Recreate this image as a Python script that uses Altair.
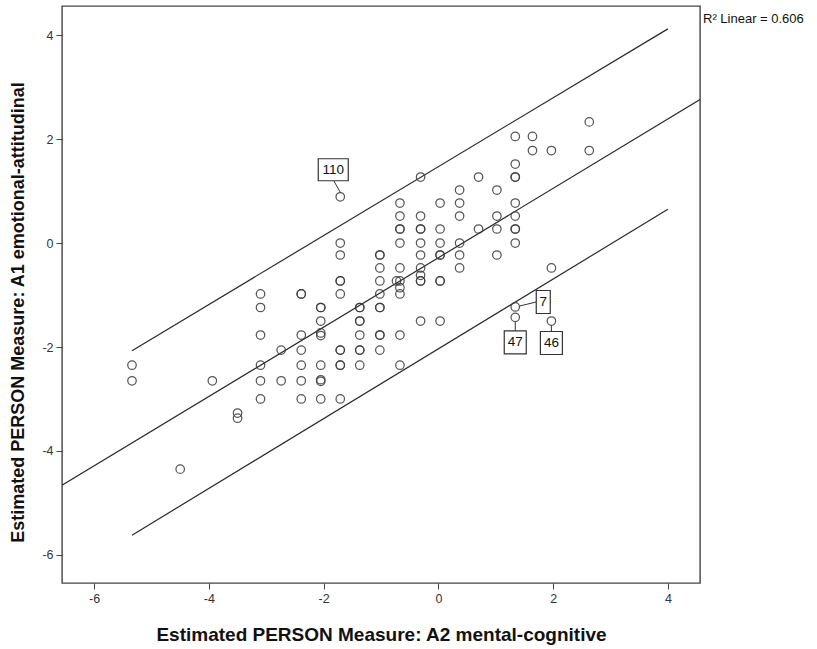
import altair as alt
import pandas as pd

# ---- data (x = A2 mental-cognitive, y = A1 emotional-attitudinal)
col_x = [-5.34, -4.50, -3.94, -3.50, -3.10, -2.74, -2.39, -2.05, -1.71, -1.37,
         -1.02, -0.67, -0.73, -0.31, 0.03, 0.37, 0.70, 1.02, 1.34, 1.64, 1.97, 2.63]
col_y = [
    [-2.35, -2.65],
    [-4.35],
    [-2.65],
    [-3.27, -3.37],
    [-0.98, -1.24, -1.77, -2.35, -2.65, -3.00],
    [-2.06, -2.65],
    [-0.98, -0.98, -1.77, -2.06, -2.35, -2.65, -3.00],
    [-1.24, -1.24, -1.50, -1.73, -1.78, -2.35, -2.63, -2.66, -3.00],
    [0.89, 0.00, -0.23, -0.73, -0.73, -0.98, -2.06, -2.06, -2.35, -2.35, -3.00],
    [-1.24, -1.24, -1.50, -1.50, -1.77, -2.06, -2.06, -2.35],
    [-0.23, -0.23, -0.48, -0.73, -0.98, -1.24, -1.24, -1.77, -1.77, -2.06],
    [0.77, 0.52, 0.27, 0.27, 0.00, -0.48, -0.73, -0.86, -0.98, -1.77, -2.35],
    [-0.73],
    [1.27, 0.52, 0.27, 0.27, 0.00, -0.23, -0.48, -0.62, -0.73, -0.73, -1.50],
    [0.77, 0.27, 0.00, -0.23, -0.23, -0.73, -0.73, -1.50],
    [1.02, 0.77, 0.52, 0.00, -0.23, -0.48],
    [1.27, 0.27],
    [1.02, 0.52, 0.27, -0.23],
    [2.05, 1.52, 1.27, 1.27, 0.77, 0.52, 0.27, 0.27, 0.00, -1.23, -1.43],
    [2.05, 1.78],
    [1.78, -0.48, -1.50],
    [2.33, 1.78],
]

# fit line and interval lines (end points)
fit_x = [-6.56, 4.56]
fit_y = [-4.66, 2.76]
upper_x = [-5.34, 4.00]
upper_y = [-2.07, 4.12]
lower_x = [-5.34, 4.00]
lower_y = [-5.62, 0.65]

# labelled cases
label_case = ["110", "7", "47", "46"]
label_x = [-1.71, 1.34, 1.34, 1.97]
label_y = [0.89, -1.23, -1.43, -1.50]

r2_text = "R\u00b2 Linear = 0.606"
x_title = "Estimated PERSON Measure: A2 mental-cognitive"
y_title = "Estimated PERSON Measure: A1 emotional-attitudinal"
tick_values = [-6, -4, -2, 0, 2, 4]

# ---- styling (pixel offsets of label boxes relative to their points)
label_dx = [-7, 28, 0, 0]
label_dy = [-27, -5, 25, 22]
box_w = [30, 14, 22, 22]
box_h = [22, 23, 23, 23]
rule_start = [(0, -4.5), (4.5, -1), (0, 4.5), (0, 4.5)]
rule_end = [(-6.5, -16), (21, -5), (0, 13.5), (0, 10.5)]

FONT = "Liberation Sans, Arial, sans-serif"
INK = "#333333"

rows = []
for xv, ys in zip(col_x, col_y):
    for yv in ys:
        rows.append({"x": xv, "y": yv})
pts = pd.DataFrame(rows)

lines = pd.DataFrame(
    [{"line": "fit", "x": a, "y": b} for a, b in zip(fit_x, fit_y)]
    + [{"line": "upper", "x": a, "y": b} for a, b in zip(upper_x, upper_y)]
    + [{"line": "lower", "x": a, "y": b} for a, b in zip(lower_x, lower_y)]
)

xscale = alt.Scale(domain=[-6.56, 4.56], nice=False, zero=False)
yscale = alt.Scale(domain=[-6.54, 4.56], nice=False, zero=False)

x_axis = alt.Axis(values=tick_values, labelExpr="toString(datum.value)", title=x_title,
                  titleX=319, titleY=51, titleAlign="center", titleBaseline="middle",
                  titleFontSize=19)
y_axis = alt.Axis(values=tick_values, labelExpr="toString(datum.value)", title=y_title,
                  titleX=-44, titleY=306, titleAngle=270, titleAlign="center",
                  titleBaseline="middle", titleFontSize=18)


def xy():
    return dict(
        x=alt.X("x:Q", scale=xscale, axis=x_axis, title=x_title),
        y=alt.Y("y:Q", scale=yscale, axis=y_axis, title=y_title),
    )


points = alt.Chart(pts).mark_point(
    shape="circle", size=72, filled=False, stroke="#3a3a3a", strokeWidth=1.25, opacity=0.85
).encode(**xy())

line_layer = alt.Chart(lines).mark_line(color="#2a2a2a", strokeWidth=1.2, clip=True).encode(
    detail="line:N", **xy()
)

layers = [line_layer, points]

for i in range(len(label_case)):
    one = pd.DataFrame({"x": [label_x[i]], "y": [label_y[i]], "case": [label_case[i]]})
    base = alt.Chart(one)
    rule = base.mark_rule(
        color=INK, strokeWidth=1,
        xOffset=rule_start[i][0], yOffset=rule_start[i][1],
        x2Offset=rule_end[i][0], y2Offset=rule_end[i][1],
    ).encode(x2="x:Q", y2="y:Q", **xy())
    m = max(box_w[i], box_h[i])
    hw = box_w[i] / m
    hh = box_h[i] / m
    path = f"M{-hw},{-hh}L{hw},{-hh}L{hw},{hh}L{-hw},{hh}Z"
    box = base.mark_point(
        shape=path, size=m * m, filled=True, fill="white", stroke=INK,
        strokeWidth=1.2, opacity=1, xOffset=label_dx[i], yOffset=label_dy[i],
    ).encode(**xy())
    txt = base.mark_text(
        dx=label_dx[i], dy=label_dy[i], fontSize=13.5, font=FONT, color="#111111",
        align="center", baseline="middle",
    ).encode(text="case:N", **xy())
    layers += [rule, box, txt]

r2 = alt.Chart(pd.DataFrame({"t": [r2_text]})).mark_text(
    align="left", baseline="middle", fontSize=13, font=FONT, color="#111111"
).encode(x=alt.value(641), y=alt.value(13), text="t:N")
layers.append(r2)

chart = alt.layer(*layers).properties(
    width=638, height=577,
    autosize=alt.AutoSizeParams(type="none"),
    padding={"left": 62, "top": 6, "right": 117, "bottom": 66},
).configure(
    background="white", font=FONT
).configure_view(
    stroke="#444444", strokeWidth=1.4
).configure_axis(
    domain=False, grid=False, ticks=True, tickSize=6, tickColor="#444444",
    labelFont=FONT, labelFontSize=12.5, labelColor="#333333", labelPadding=3,
    titleFont=FONT, titleFontWeight="bold", titleColor="#111111",
)

chart.save("out.html", embed_options={"renderer": "svg", "actions": False})
